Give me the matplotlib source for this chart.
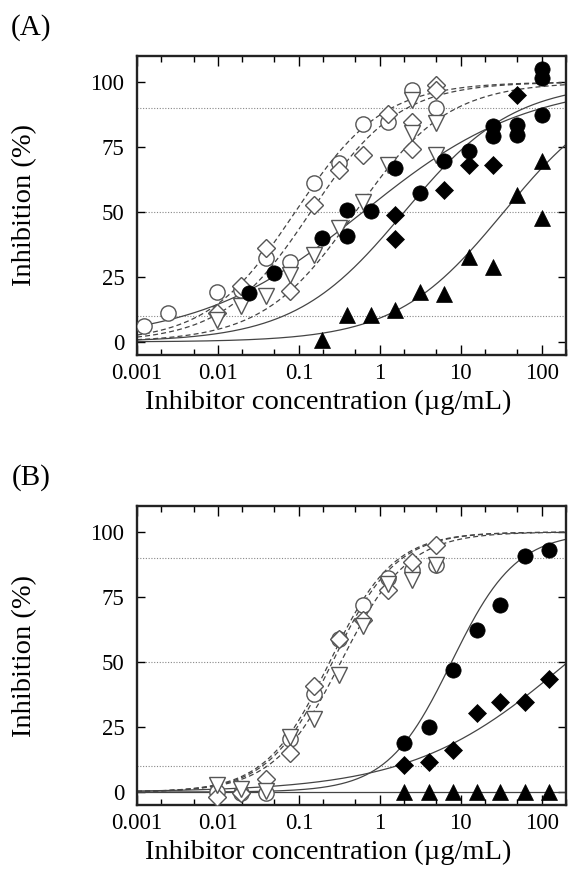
import numpy as np
import matplotlib
matplotlib.use("Agg")
import matplotlib.pyplot as plt
from matplotlib.ticker import LogLocator, FixedLocator, NullFormatter

plt.rcParams["font.family"] = ["Liberation Serif", "DejaVu Serif"]

# ---- panel A data ----
a_open_x = [0.00122, 0.00244, 0.0098, 0.0195, 0.039, 0.078, 0.156, 0.3125, 0.625, 1.25, 2.5, 5]
a_circle_open = [6.2, 11.3, 19.2, 20.0, 32.3, 30.8, 61.0, 68.8, 83.8, 84.6, 97.0, 90.0]

a_diam_open_x = [0.0098, 0.0195, 0.039, 0.078, 0.156, 0.3125, 0.625, 1.25, 2.5, 2.5, 5, 5]
a_diam_open = [11.2, 21.4, 36.2, 19.5, 52.8, 66.3, 72.0, 87.8, 84.6, 74.4, 99.0, 97.0]

a_tri_open_x = [0.0098, 0.0195, 0.039, 0.078, 0.156, 0.3125, 0.625, 1.25, 2.5, 2.5, 5, 5]
a_tri_open = [8.6, 13.7, 17.5, 25.6, 33.6, 43.8, 54.0, 68.2, 93.2, 80.4, 84.2, 72.0]

a_circle_x = [0.0244, 0.0488, 0.195, 0.39, 0.39, 0.78, 1.56, 3.125, 6.25, 12.5,
              25, 25, 50, 50, 100, 100, 100]
a_circle = [18.8, 26.5, 40.0, 50.9, 40.6, 50.5, 66.9, 57.3, 69.5, 73.3,
            82.9, 79.1, 83.6, 79.5, 105.0, 101.5, 87.4]

a_diam_x = [1.56, 1.56, 6.25, 12.5, 25, 50]
a_diam = [48.7, 39.7, 58.6, 68.2, 68.2, 95.1]

a_tri_x = [0.195, 0.39, 0.78, 1.56, 3.125, 6.25, 12.5, 25, 50, 100, 100]
a_tri = [0.6, 10.2, 10.2, 12.2, 19.2, 18.6, 32.7, 28.8, 56.6, 69.5, 47.7]

# fitted curves: open circle, open diamond, open triangle, filled circle, filled diamond, filled triangle
a_ic50 = [0.09, 0.14, 0.5, 0.62, 2.0, 34.0]
a_hill = [0.8, 0.8, 0.76, 0.43, 0.64, 0.65]
a_top = [100, 100, 100, 100, 100, 100]

# ---- panel B data ----
b_open_x = [0.0098, 0.0195, 0.039, 0.078, 0.156, 0.3125, 0.625, 1.25, 2.5, 5]
b_circle_open = [0.0, -0.5, -0.5, 20.5, 37.8, 58.8, 71.8, 82.5, 85.3, 87.2]
b_diam_open = [-1.9, -0.5, 5.2, 15.0, 40.7, 59.0, 66.0, 77.6, 88.5, 94.9]
b_tri_open = [2.6, 1.3, 0.5, 21.2, 28.2, 44.9, 64.0, 80.0, 81.4, 87.2]

b_fill_x = [2, 4, 8, 16, 31, 62, 125]
b_circle = [19.0, 25.0, 46.8, 62.4, 71.8, 90.6, 93.2]
b_diam = [10.3, 11.5, 16.0, 30.4, 34.6, 34.6, 43.6]
b_tri = [0.0, 0.0, 0.0, 0.0, 0.0, 0.0, 0.0]

b_ic50 = [0.24, 0.26, 0.33, 7.7, 211.0, 1.0]
b_hill = [1.1, 1.1, 1.05, 1.09, 0.45, 1.0]
b_top = [100, 100, 100, 100, 100, 0]

LINE_C = "#444444"
OPEN_C = "#555555"


def hill(x, ic50, n, top):
    return top / (1.0 + (ic50 / x) ** n)


def draw_panel(ax, open_sets, filled_sets, ic50, n, top):
    xs = np.logspace(-3, np.log10(200), 400)
    for i in range(6):
        ls = (0, (4, 2.5)) if i < 3 else "-"
        ax.plot(xs, hill(xs, ic50[i], n[i], top[i]), color=LINE_C, lw=0.9, ls=ls, zorder=2)

    for y in (10, 50, 90):
        ax.axhline(y, color="#888888", lw=0.8, ls=(0, (1, 1.5)), zorder=1)

    for (x, y, m, s) in open_sets:
        ax.plot(x, y, m, ms=s, mfc="white", mec=OPEN_C, mew=1.0, ls="none", zorder=3)
    for (x, y, m, s) in filled_sets:
        ax.plot(x, y, m, ms=s, mfc="black", mec="black", mew=0.5, ls="none", zorder=4)

    ax.set_xscale("log")
    ax.set_xlim(0.001, 200)
    ax.set_ylim(-5, 110)
    ax.set_yticks([0, 25, 50, 75, 100])
    ax.xaxis.set_major_locator(FixedLocator([0.001, 0.01, 0.1, 1, 10, 100]))
    ax.set_xticklabels(["0.001", "0.01", "0.1", "1", "10", "100"])
    ax.xaxis.set_minor_locator(LogLocator(base=10, subs=(2, 5), numticks=20))
    ax.xaxis.set_minor_formatter(NullFormatter())
    ax.tick_params(which="both", direction="in", top=True, right=True, labelsize=16.5)
    ax.tick_params(axis="y", which="major", length=6, width=1, pad=9)
    ax.tick_params(axis="x", which="major", length=7, width=1, pad=6)
    ax.tick_params(axis="x", which="minor", length=4, width=1)
    for sp in ax.spines.values():
        sp.set_linewidth(1.7)
        sp.set_color("#222222")

    ax.set_ylabel("Inhibition (%)", fontsize=20.5)
    ax.yaxis.set_label_coords(-0.233, 0.5)
    ax.set_xlabel("Inhibitor concentration (\u00b5g/mL)", fontsize=20.5)
    ax.xaxis.set_label_coords(0.445, -0.115)


fig = plt.figure(figsize=(5.68, 8.83), dpi=100)
ax_a = fig.add_axes([0.2412, 0.598, 0.7553, 0.3386])
ax_b = fig.add_axes([0.2412, 0.0883, 0.7553, 0.3386])

draw_panel(
    ax_a,
    [(a_open_x, a_circle_open, "o", 11),
     (a_diam_open_x, a_diam_open, "D", 9),
     (a_tri_open_x, a_tri_open, "v", 11.5)],
    [(a_circle_x, a_circle, "o", 11),
     (a_diam_x, a_diam, "D", 9),
     (a_tri_x, a_tri, "^", 11)],
    a_ic50, a_hill, a_top,
)
draw_panel(
    ax_b,
    [(b_open_x, b_circle_open, "o", 11),
     (b_open_x, b_diam_open, "D", 9),
     (b_open_x, b_tri_open, "v", 11.5)],
    [(b_fill_x, b_circle, "o", 11),
     (b_fill_x, b_diam, "D", 9),
     (b_fill_x, b_tri, "^", 11)],
    b_ic50, b_hill, b_top,
)

fig.text(31 / 568, 1 - 28 / 883, "(A)", fontsize=21, ha="center", va="center")
fig.text(31 / 568, 1 - 478 / 883, "(B)", fontsize=21, ha="center", va="center")

fig.savefig("out.png", dpi=100)
